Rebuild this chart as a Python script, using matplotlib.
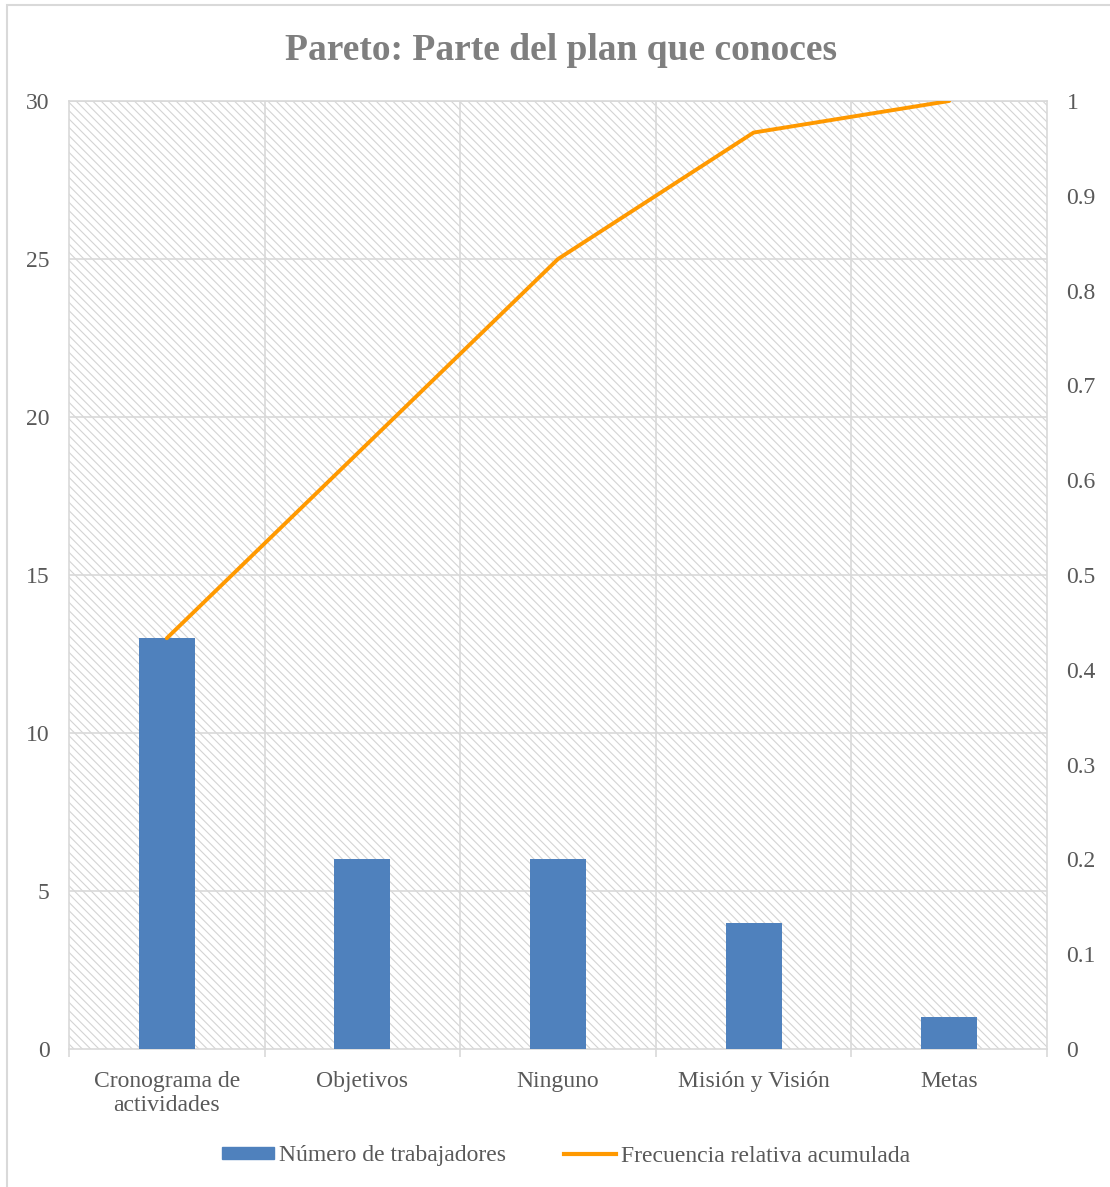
import matplotlib.pyplot as plt
import matplotlib.patches as mpatches
from matplotlib.lines import Line2D
import numpy as np

plt.rcParams['font.family'] = ['Liberation Serif', 'DejaVu Serif']
plt.rcParams['hatch.linewidth'] = 0.8

categorias = ['Cronograma de\nactividades', 'Objetivos', 'Ninguno', 'Misión y Visión', 'Metas']
trabajadores = [13, 6, 6, 4, 1]
frec_acum = [0.4333, 0.6333, 0.8333, 0.9667, 1.0]

txt = '#595959'
grid = '#d9d9d9'

fig = plt.figure(figsize=(11.10, 11.87), dpi=100)
ax = fig.add_axes([69/1110, 1 - 1049/1187, 978/1110, 948/1187])

# fondo rayado
bg = mpatches.Rectangle((0, 0), 1, 1, transform=ax.transAxes, facecolor='white',
                        edgecolor='#d4d4d4', hatch='\\\\\\\\', lw=0, zorder=0)
ax.add_patch(bg)

x = np.arange(len(categorias))
ax.bar(x, trabajadores, width=0.286, color='#4f81bd', zorder=3)
ax.set_xlim(-0.5, len(categorias) - 0.5)
ax.set_ylim(0, 30)
ax.set_yticks(range(0, 31, 5))
for yy in range(5, 31, 5):
    ax.axhline(yy, color=grid, lw=1.2, zorder=1)
for xx in np.arange(0.5, len(categorias) - 0.5, 1):
    ax.axvline(xx, color=grid, lw=1.2, zorder=1)

ax.set_xticks(x)
ax.set_xticklabels(categorias, fontsize=17, color=txt, linespacing=1.15)
ax.set_xticks(np.arange(-0.5, len(categorias), 1), minor=True)
ax.tick_params(axis='x', which='major', length=0, pad=16)
ax.tick_params(axis='x', which='minor', length=6, color=grid, width=1.2)
ax.tick_params(axis='y', length=0, labelsize=17, labelcolor=txt, pad=14)
for s in ['left', 'right', 'top', 'bottom']:
    ax.spines[s].set_color(grid)
    ax.spines[s].set_linewidth(1.2)

ax2 = ax.twinx()
ax2.plot(x, frec_acum, color='#ff9900', lw=2.8, zorder=4, solid_capstyle='round')
ax2.set_ylim(0, 1)
ax2.set_yticks(np.arange(0, 1.01, 0.1))
ax2.set_yticklabels(['0'] + ['%.1f' % v for v in np.arange(0.1, 0.95, 0.1)] + ['1'])
ax2.tick_params(axis='y', length=0, labelsize=17, labelcolor=txt, pad=14)
for s in ax2.spines.values():
    s.set_visible(False)

fig.text(0.505, 1 - 50/1187, 'Pareto: Parte del plan que conoces', ha='center', va='center',
         fontsize=27, fontweight='bold', color='#7f7f7f')

handles = [mpatches.Patch(color='#4f81bd', label='Número de trabajadores'),
           Line2D([0], [0], color='#ff9900', lw=3, label='Frecuencia relativa acumulada')]
fig.legend(handles=handles, loc='center', bbox_to_anchor=(0.51, 1 - 1156/1187), ncol=2,
           frameon=False, fontsize=17, labelcolor=txt, handlelength=2.2, handleheight=0.45,
           handletextpad=0.2, columnspacing=2.45)

fig.patches.append(mpatches.Rectangle((7/1110, -0.01), 1.1, 1 - 5/1187 + 0.01,
                                      transform=fig.transFigure, fill=False,
                                      edgecolor=grid, lw=1.5))

fig.savefig('out.png', dpi=100)
